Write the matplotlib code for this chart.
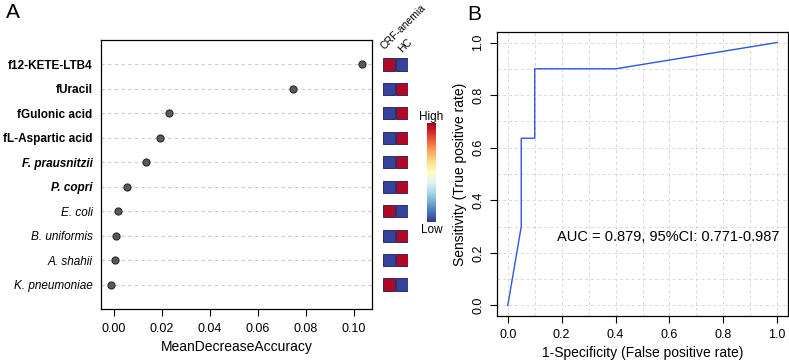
import matplotlib
matplotlib.use("Agg")
import matplotlib.pyplot as plt
import numpy as np

plt.rcParams['font.family'] = ['Liberation Sans', 'DejaVu Sans']

# ---- data ----
features = ["f12-KETE-LTB4", "fUracil", "fGulonic acid", "fL-Aspartic acid",
            "F. prausnitzii", "P. copri", "E. coli", "B. uniformis",
            "A. shahii", "K. pneumoniae"]
label_style = ["bold", "bold", "bold", "bold", "bolditalic", "bolditalic",
               "italic", "italic", "italic", "italic"]
mda = [0.1033, 0.0747, 0.0228, 0.0192, 0.0133, 0.0054, 0.0018, 0.0007, 0.0006, -0.0013]
# heat columns: CRF-anemia, HC (1 = high, 0 = low)
heat_crf = [1, 0, 0, 0, 0, 0, 1, 0, 0, 1]
heat_hc = [0, 1, 1, 1, 1, 1, 0, 1, 1, 0]
heat_cols = ["CRF-anemia", "HC"]

fpr = [0.0, 0.05, 0.05, 0.10, 0.10, 0.40, 1.0]
tpr = [0.0, 0.30, 0.636, 0.636, 0.90, 0.90, 1.0]
auc_text = "AUC = 0.879, 95%CI: 0.771-0.987"

W, H = 789, 361
fig = plt.figure(figsize=(W / 100, H / 100), dpi=100)


def fx(px):
    return px / W


def fy(py):
    return 1 - py / H


# ---- panel A: importance dot plot ----
axA = fig.add_axes([fx(101), fy(309), fx(372 - 101), (309 - 40) / H])
n = len(features)
ypos = np.arange(n, 0, -1)
for y in ypos:
    axA.axhline(y, color="#cccccc", lw=0.8, ls=(0, (3, 3)), zorder=1)
axA.scatter(mda, ypos, s=26, color="#5a5a5a", edgecolor="#2a2a2a", lw=0.8, zorder=3)
axA.set_xlim(-0.0054, 0.1075)
axA.set_ylim(0, n + 1)
axA.set_xticks([0.0, 0.02, 0.04, 0.06, 0.08, 0.10])
axA.set_xticklabels(["0.00", "0.02", "0.04", "0.06", "0.08", "0.10"])
axA.set_yticks(ypos)
axA.set_yticklabels(features)
for lab, st in zip(axA.get_yticklabels(), label_style):
    lab.set_fontweight("bold" if "bold" in st else "normal")
    lab.set_fontstyle("italic" if "italic" in st else "normal")
    lab.set_fontsize(8.5)
axA.tick_params(axis="y", length=0, pad=6)
axA.tick_params(axis="x", length=5, labelsize=9, pad=5)
axA.set_xlabel("MeanDecreaseAccuracy", fontsize=10, labelpad=4)
for s in axA.spines.values():
    s.set_linewidth(0.9)

# ---- heat squares ----
cmap = plt.get_cmap("RdYlBu_r")
axH = fig.add_axes([fx(383), fy(309), fx(408 - 383), (309 - 40) / H])
axH.set_xlim(0, 2)
axH.set_ylim(0, n + 1)
axH.axis("off")
for j, col in enumerate([heat_crf, heat_hc]):
    colors = [cmap(0.98) if v else cmap(0.02) for v in col]
    axH.barh(ypos, 0.93, left=j + 0.035, height=0.5, color=colors,
             edgecolor="#1c1c5a", lw=0.6)
for name, (px, py) in zip(heat_cols, [(386, 51), (404, 54)]):
    fig.text(fx(px), fy(py), name, rotation=45, rotation_mode="anchor",
             ha="left", va="bottom", fontsize=7.5)

# ---- colour key ----
axC = fig.add_axes([fx(427), fy(222), fx(9), (222 - 123) / H])
grad = np.linspace(0, 1, 256).reshape(-1, 1)
axC.imshow(grad, aspect="auto", cmap=cmap, origin="lower")
axC.set_xticks([])
axC.set_yticks([])
for s in axC.spines.values():
    s.set_visible(False)
fig.text(fx(431.5), fy(117), "High", ha="center", va="center", fontsize=8.5)
fig.text(fx(431.5), fy(230), "Low", ha="center", va="center", fontsize=8.5)

# ---- panel B: ROC ----
axB = fig.add_axes([fx(497), fy(316), fx(788 - 497), (316 - 32) / H])
axB.set_xlim(-0.04, 1.04)
axB.set_ylim(-0.04, 1.04)
grid_ticks = np.arange(0, 1.01, 0.1)
for g in grid_ticks:
    axB.axvline(g, color="#d8d8d8", lw=0.7, ls=(0, (3, 3)), zorder=0)
    axB.axhline(g, color="#d8d8d8", lw=0.7, ls=(0, (3, 3)), zorder=0)
axB.plot(fpr, tpr, color="#2f55e0", lw=1.0)
ticks = [0.0, 0.2, 0.4, 0.6, 0.8, 1.0]
axB.set_xticks(ticks)
axB.set_yticks(ticks)
axB.set_xticklabels([f"{t:.1f}" for t in ticks])
axB.set_yticklabels([f"{t:.1f}" for t in ticks], rotation=90, va="center")
axB.tick_params(length=5, labelsize=9, pad=4)
axB.set_xlabel("1-Specificity (False positive rate)", fontsize=10, labelpad=4)
axB.set_ylabel("Sensitivity (True positive rate)", fontsize=10, labelpad=4)
axB.text(1.007, 0.26, auc_text, ha="right", va="center", fontsize=10.5)
for s in axB.spines.values():
    s.set_linewidth(0.9)

fig.text(fx(13), fy(13), "A", ha="center", va="center", fontsize=15)
fig.text(fx(474), fy(14), "B", ha="center", va="center", fontsize=15)

fig.savefig("out.png", dpi=100)
